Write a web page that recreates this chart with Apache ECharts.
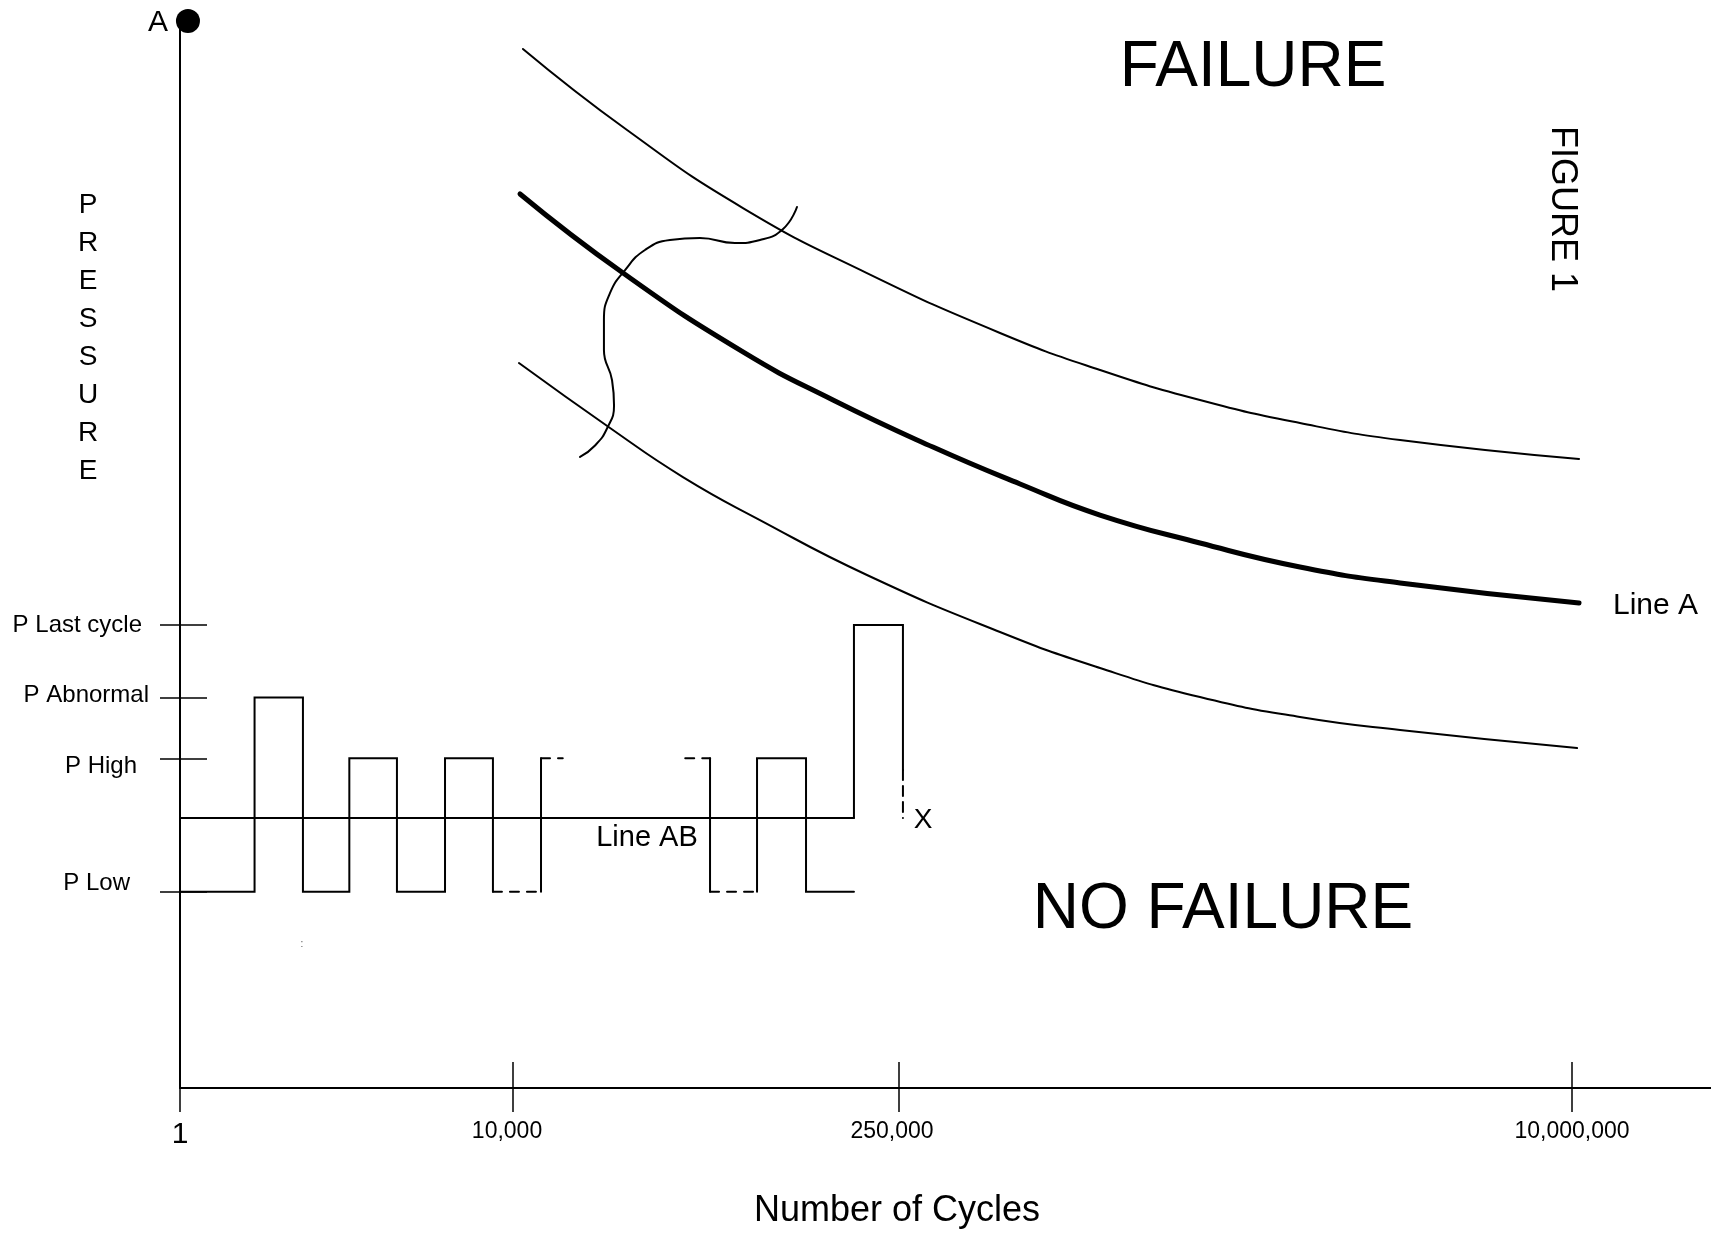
<!DOCTYPE html>
<html>
<head>
<meta charset="utf-8">
<title>Figure 1</title>
<script src="https://cdn.jsdelivr.net/npm/echarts@6/dist/echarts.min.js"></script>
<style>
html, body { margin: 0; padding: 0; background: #fff; }
#chart { width: 1711px; height: 1240px; }
</style>
</head>
<body>
<div id="chart"></div>
<script>
// schematic units: x 0..100 along the cycles axis, y 0..100 up the pressure axis
var xTickPos = [0, 21.75, 46.96, 90.92];
var xLabelPos = [0, 21.36, 46.51, 90.92];
var xTickLabels = ['1', '10,000', '250,000', '10,000,000'];

var yTickNames = ['P Low', 'P High', 'P Abnormal', 'P Last cycle'];
var yTickPos = [18.4, 30.9, 36.6, 43.4];
var yLabelPos = [19.2, 30.1, 36.8, 43.4];

var P_LOW = 18.4, P_AB = 25.3, P_HIGH = 30.9, P_ABN = 36.6, P_LAST = 43.4, P_DASH = 29.8;

// x positions where the pressure cycles switch level
var cycleEdges = [0, 4.87, 8.03, 11.06, 14.17, 17.31, 20.44, 23.58, 25.0, 33.0, 34.62, 37.69, 40.89, 44.02, 47.22];

var upperCurve = [[22.40, 97.38], [29.20, 89.78], [36.77, 82.47], [44.87, 76.38], [53.56, 70.76],
  [60.09, 67.29], [66.62, 64.48], [73.15, 62.32], [79.69, 60.73], [91.38, 58.95]];
var lineA = [[22.21, 83.79], [28.94, 76.38], [36.77, 68.98], [42.65, 64.48], [49.18, 60.07], [54.87, 56.61],
  [60.09, 53.70], [66.62, 51.08], [73.15, 48.83], [79.69, 47.33], [91.38, 45.45]];
var lowerCurve = [[22.14, 67.95], [28.09, 61.86], [32.85, 57.26], [37.88, 53.23], [44.87, 48.08], [53.56, 42.74],
  [60.09, 39.36], [66.62, 36.64], [73.15, 34.77], [79.69, 33.55], [91.25, 31.86]];
var squiggle = [[40.30, 82.57], [39.39, 80.51], [37.88, 79.48], [36.25, 79.19], [33.96, 79.66], [32.00, 79.48],
  [30.37, 78.54], [29.07, 76.66], [28.09, 74.51], [27.69, 71.98], [27.69, 69.17], [28.22, 66.33],
  [28.35, 63.97], [27.89, 61.81], [27.11, 60.22], [26.13, 59.14]];

var e = cycleEdges;
var waveSolidA = [[e[0], P_LOW], [e[1], P_LOW], [e[1], P_ABN], [e[2], P_ABN], [e[2], P_LOW], [e[3], P_LOW],
  [e[3], P_HIGH], [e[4], P_HIGH], [e[4], P_LOW], [e[5], P_LOW], [e[5], P_HIGH], [e[6], P_HIGH], [e[6], P_LOW]];
var waveDashLow1 = [[e[6], P_LOW], [e[7], P_LOW]];
var waveSolidB = [[e[7], P_LOW], [e[7], P_HIGH]];
var waveStub1 = [[e[7], P_HIGH], [e[8], P_HIGH]];
var waveStub2 = [[e[9], P_HIGH], [e[10], P_HIGH]];
var waveSolidC = [[e[10], P_HIGH], [e[10], P_LOW]];
var waveDashLow2 = [[e[10], P_LOW], [e[11], P_LOW]];
var waveSolidD = [[e[11], P_LOW], [e[11], P_HIGH], [e[12], P_HIGH], [e[12], P_LOW], [e[13], P_LOW]];
var lastCycle = [[e[13], P_AB], [e[13], P_LAST], [e[14], P_LAST], [e[14], P_DASH]];
var lastCycleDash = [[e[14], P_DASH], [e[14], P_AB]];
var lineAB = [[0, P_AB], [e[13], P_AB]];
var pointA = [[0.52, 100]];

var FONT = '"Liberation Sans", Arial, sans-serif';

function seg(data, width, type, smooth) {
  return {
    type: 'line', data: data, symbol: 'none', showSymbol: false,
    smooth: smooth || false, silent: true, clip: false,
    lineStyle: { color: '#000', width: width, type: type || 'solid', cap: 'round', join: 'miter' }
  };
}

function idx(arr, v) {
  for (var i = 0; i < arr.length; i++) if (Math.abs(arr[i] - v) < 0.01) return i;
  return -1;
}

function txt(x, y, text, size, extra) {
  var o = {
    type: 'text', x: x, y: y, silent: true,
    style: { text: text, font: size + 'px ' + FONT, fill: '#000', align: 'center', verticalAlign: 'middle' }
  };
  if (extra) for (var k in extra) o.style[k] = extra[k];
  return o;
}

var chartDom = document.getElementById('chart');
var myChart = echarts.init(chartDom);

var option = {
  animation: false,
  backgroundColor: '#fff',
  textStyle: { fontFamily: FONT, color: '#000' },
  grid: { left: 180, right: 0, top: 21, bottom: 152, containLabel: false, outerBoundsMode: 'none' },
  xAxis: [
    {
      type: 'value', min: 0, max: 100, position: 'bottom',
      splitLine: { show: false },
      axisLine: { lineStyle: { color: '#000', width: 2 } },
      axisTick: { show: true, inside: false, length: 24, customValues: xTickPos, lineStyle: { color: '#000', width: 1.5 } },
      axisLabel: {
        customValues: xLabelPos, margin: 32, color: '#000', fontSize: 23, verticalAlign: 'top',
        formatter: function (v) {
          var i = idx(xLabelPos, v);
          return i === 0 ? '{big|1}' : xTickLabels[i];
        },
        rich: { big: { fontSize: 30, fontFamily: FONT, color: '#000' } }
      }
    },
    {
      type: 'value', min: 0, max: 100, position: 'bottom', offset: 0,
      splitLine: { show: false }, axisLine: { show: false }, axisLabel: { show: false },
      axisTick: { show: true, inside: true, length: 26, customValues: xTickPos, lineStyle: { color: '#000', width: 1.5 } }
    }
  ],
  yAxis: [
    {
      type: 'value', min: 0, max: 100, position: 'left',
      splitLine: { show: false },
      axisLine: { lineStyle: { color: '#000', width: 2 } },
      axisTick: { show: true, inside: false, length: 20, customValues: yTickPos, lineStyle: { color: '#000', width: 1.5 } },
      axisLabel: {
        customValues: yLabelPos, margin: 31, color: '#000', fontSize: 24,
        formatter: function (v) {
          var i = idx(yLabelPos, v);
          return '{s' + i + '|' + yTickNames[i] + '}';
        },
        rich: {
          s0: { fontSize: 24, padding: [0, 19, 0, 0] },
          s1: { fontSize: 24, padding: [0, 12, 0, 0] },
          s2: { fontSize: 24, padding: [0, 0, 0, 0] },
          s3: { fontSize: 24, padding: [0, 7, 0, 0] }
        }
      }
    },
    {
      type: 'value', min: 0, max: 100, position: 'left', offset: 0,
      splitLine: { show: false }, axisLine: { show: false }, axisLabel: { show: false },
      axisTick: { show: true, inside: true, length: 27, customValues: yTickPos, lineStyle: { color: '#000', width: 1.5 } }
    }
  ],
  series: [
    seg(upperCurve, 2, 'solid', 0.5),
    seg(lineA, 5, 'solid', 0.5),
    seg(lowerCurve, 2, 'solid', 0.5),
    seg(squiggle, 2, 'solid', 0.5),
    seg(lineAB, 2),
    seg(waveSolidA, 2),
    seg(waveDashLow1, 2, [9, 8]),
    seg(waveSolidB, 2),
    seg(waveStub1, 2, [9, 8]),
    seg(waveStub2, 2, [9, 8]),
    seg(waveSolidC, 2),
    seg(waveDashLow2, 2, [9, 8]),
    seg(waveSolidD, 2),
    seg(lastCycle, 2),
    seg(lastCycleDash, 2, [10, 6]),
    {
      type: 'scatter', data: pointA, symbol: 'circle', symbolSize: 24, clip: false, silent: true,
      itemStyle: { color: '#000', opacity: 1 }
    }
  ],
  graphic: [
    txt(158, 23, 'A', 30),
    txt(88, 338, 'P\nR\nE\nS\nS\nU\nR\nE', 28, { lineHeight: 38 }),
    txt(1253, 68, 'FAILURE', 64),
    txt(1223, 910, 'NO FAILURE', 64),
    { type: 'text', x: 1562, y: 209, rotation: -Math.PI / 2, silent: true,
      style: { text: 'FIGURE 1', font: '36px ' + FONT, fill: '#000', align: 'center', verticalAlign: 'middle' } },
    txt(1613, 606, 'Line A', 30, { align: 'left' }),
    txt(647, 838, 'Line AB', 29),
    txt(923, 820, 'X', 28),
    txt(897, 1211, 'Number of Cycles', 36),
    txt(302, 944, ':', 10, { fill: '#555' })
  ]
};

option && myChart.setOption(option);
</script>
</body>
</html>
